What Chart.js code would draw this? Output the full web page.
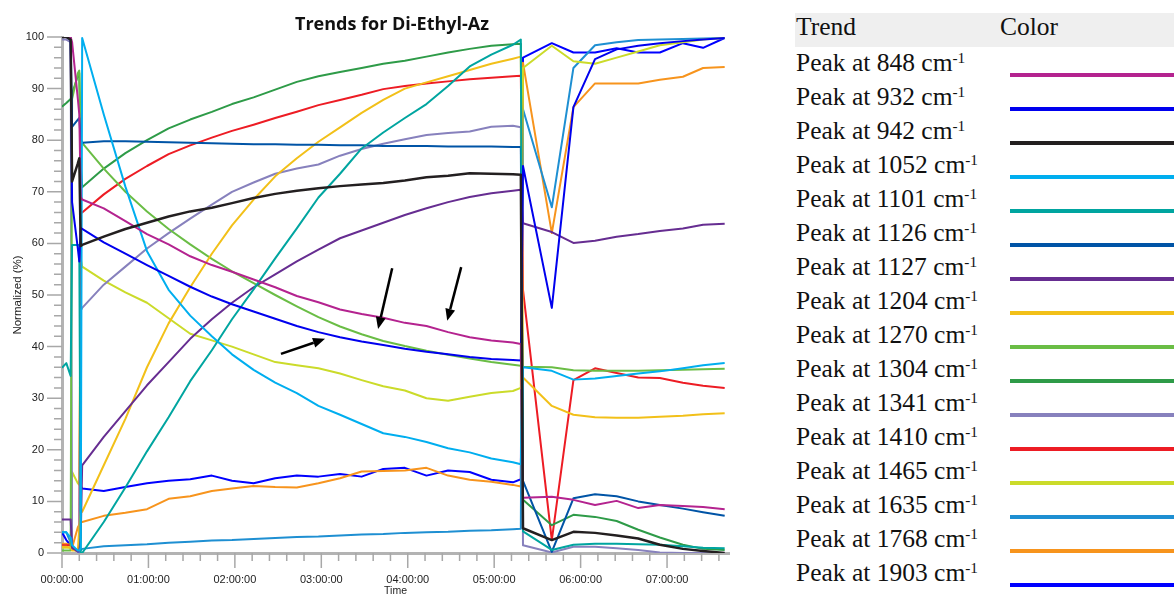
<!DOCTYPE html>
<html>
<head>
<meta charset="utf-8">
<script src="https://cdn.jsdelivr.net/npm/chart.js@4.4.1/dist/chart.umd.min.js"></script>
<style>
  html, body { margin: 0; padding: 0; background: #fff; }
  body { width: 1174px; height: 597px; overflow: hidden; position: relative; }
  #plot { position: absolute; left: 0; top: 0; width: 784px; height: 597px; }
  .head { position: absolute; left: 795px; top: 13px; width: 379px; height: 34px; background: #efefef; }
  .txt { position: absolute; font-family: "Liberation Serif", "Times New Roman", serif; font-size: 25.5px;
         line-height: 34px; color: #111; white-space: nowrap; }
  .txt sup { font-size: 0.6em; line-height: 0; vertical-align: 0.5em; }
  .sw { position: absolute; left: 1010px; width: 180px; height: 4px; }
</style>
</head>
<body>
<div id="plot"><canvas id="chart" width="784" height="597"></canvas></div>
<div class="head"></div>
<div class="txt" style="left:796px; top:10.4px;">Trend</div>
<div class="txt" style="left:1000px; top:10.4px;">Color</div>
<div id="legend"></div>

<script>
// Sample times in minutes after start
const minutes = [0, 3, 6, 7, 11, 12, 13,
  14, 29, 44, 59, 74, 89, 104, 118, 133, 148, 163, 178, 193, 208, 223, 238, 253, 268, 283, 298, 313, 318.5,
  320, 340, 355, 370, 385, 400, 415, 431, 445, 460];

// Normalized peak intensities (%)
const peak848 = [100, 100, 100, 99, 88, 85, 69,
  68.5, 66.8, 64.3, 61.8, 59.8, 57.5, 55.8, 54.5, 53, 51.5, 49.8, 48.6, 47.2, 46.3, 45.6, 44.6, 44, 42.8, 41.8, 41.2, 40.8, 40.5,
  10.7, 10.9, 10.3, 9.3, 10.1, 8.7, 9.3, 9.1, 8.9, 8.5];
const peak932 = [100, 100, 99.5, 68, 59, 56.5, 63,
  62.8, 60.2, 58, 55.8, 53.7, 51.6, 49.7, 48.2, 46.8, 45.4, 44, 42.8, 41.8, 41, 40.3, 39.6, 39, 38.5, 38, 37.6, 37.4, 37.3,
  75, 47.5, 86.4, 95.7, 97.6, 98.3, 98.8, 99.2, 99.5, 99.8];
const peak942 = [100, 100, 99.5, 72, 75.5, 76.5, 59.5,
  59.7, 61.3, 62.8, 64, 65.2, 66.2, 66.9, 67.8, 68.8, 69.6, 70.2, 70.7, 71.1, 71.4, 71.7, 72.2, 72.8, 73.1, 73.6, 73.5, 73.4, 73.3,
  4.8, 2.5, 4.1, 3.9, 3.4, 2.8, 1.6, 0.8, 0.4, 0];
const peak1052 = [4, 4, 3, 1.5, 0.5, 0.5, 1,
  99.8, 85, 71, 58.5, 51, 46, 42, 38.5, 35.5, 33, 31, 28.5, 26.8, 25, 23.2, 22.5, 21.5, 20.3, 19.5, 18.3, 17.6, 17.2,
  36, 35.3, 33.6, 33.8, 34.3, 34.8, 35.2, 35.8, 36.4, 36.8];
const peak1101 = [35.9, 36.8, 34.3, 59.7, 59.7, 59.7, 0,
  0, 6, 12.7, 19.7, 26.3, 33.3, 39.3, 45.3, 51.1, 57.1, 62.9, 68.9, 73.5, 78.4, 81.5, 84.3, 87, 90.5, 94.3, 96.6, 98.5, 99.5,
  4.2, 0.6, 1.6, 1.8, 1.8, 1.7, 1.6, 1.3, 1, 0.9];
const peak1126 = [100, 100, 100, 82.6, 84, 84.3, 80,
  79.5, 79.8, 79.8, 79.7, 79.6, 79.5, 79.4, 79.3, 79.2, 79.2, 79.1, 79.1, 79, 79, 78.9, 78.9, 78.9, 78.8, 78.8, 78.8, 78.7, 78.7,
  14, 0.2, 10.6, 11.4, 11, 10, 9.3, 8.6, 7.9, 7.2];
const peak1127 = [6.5, 6.5, 6.5, 1, 0.3, 0.5, 3,
  17, 22.5, 27.5, 32.5, 37, 41.5, 45.3, 48.5, 51.5, 54, 56.5, 58.8, 61, 62.5, 64, 65.5, 66.8, 68, 69, 69.7, 70.2, 70.4,
  63.9, 62.2, 60.1, 60.5, 61.3, 61.8, 62.4, 62.9, 63.6, 63.8];
const peak1204 = [1.2, 1.2, 1, 0.5, 0.5, 5, 8,
  8, 17, 26, 36, 44.5, 51.5, 58, 63.5, 68.5, 73, 76.5, 79.7, 82.5, 85.3, 87.8, 90, 91.2, 92.4, 93.6, 94.8, 95.8, 96.2,
  34, 28.5, 26.8, 26.3, 26.2, 26.2, 26.4, 26.6, 26.9, 27.1];
const peak1270 = [0.5, 0.5, 0.5, 88, 93, 93.5, 80,
  79.5, 74.5, 70, 66.2, 62.8, 59.8, 57, 54.6, 52.3, 50, 47.8, 45.7, 43.9, 42.4, 41.1, 40.1, 39.2, 38.4, 37.7, 37, 36.5, 36.3,
  36.1, 36, 35.4, 35.3, 35.3, 35.3, 35.4, 35.5, 35.6, 35.7];
const peak1304 = [86.5, 87.2, 88, 89, 92.5, 93, 75,
  70.9, 74.5, 77.5, 80, 82.3, 84, 85.5, 87, 88.3, 89.8, 91.3, 92.4, 93.2, 94, 94.8, 95.4, 96.2, 97, 97.7, 98.3, 98.6, 98.7,
  10.3, 5.4, 7.4, 7, 6.2, 4.5, 3, 1.6, 0.8, 0.6];
const peak1341 = [99.5, 99.5, 99, 1, 0.5, 0.5, 47,
  47.5, 52, 55.5, 59, 62, 64.8, 67.5, 70, 71.8, 73.5, 74.5, 75.3, 77, 78.3, 79.3, 80.2, 81, 81.4, 81.7, 82.6, 82.8, 82.5,
  1.5, 0.1, 1.2, 1.2, 0.9, 0.6, 0.1, 0, 0, 0];
const peak1410 = [1.5, 1.5, 1.5, 1, 0.5, 0.5, 66,
  66, 69.5, 72.5, 75, 77.3, 79, 80.5, 81.8, 83, 84.3, 85.5, 86.8, 87.8, 88.8, 89.9, 90.5, 91, 91.4, 91.8, 92.1, 92.4, 92.5,
  51, 2.5, 33.5, 35.8, 34.9, 34, 33.9, 33, 32.4, 32];
const peak1465 = [1, 1, 1, 15.7, 13.5, 13.2, 57,
  55.5, 52.8, 50.5, 48.5, 45.5, 42.5, 41.2, 40, 38.5, 37, 36.4, 35.8, 34.8, 33.5, 32.3, 31.5, 30, 29.5, 30.3, 31, 31.4, 32,
  94, 98.3, 95.3, 94.8, 96, 97.2, 98.4, 99, 99.5, 99.8];
const peak1635 = [4, 4, 2, 1, 0.5, 0.5, 0.5,
  0.8, 1.3, 1.5, 1.7, 2, 2.2, 2.4, 2.5, 2.7, 2.9, 3.1, 3.2, 3.4, 3.6, 3.7, 3.9, 4, 4.1, 4.3, 4.4, 4.6, 4.7,
  86, 67, 94, 98.4, 99, 99.4, 99.5, 99.6, 99.7, 99.8];
const peak1768 = [1.8, 1.8, 1.5, 1, 5, 5.5, 6,
  6, 7.2, 7.8, 8.5, 10.5, 11, 12, 12.5, 13, 12.8, 12.7, 13.5, 14.5, 15.8, 15.9, 16, 16.5, 15, 14.2, 13.8, 13.2, 12.9,
  95, 62, 86.4, 91, 91, 91, 91.7, 92.3, 94, 94.2];
const peak1903 = [4, 2.5, 1.5, 0.8, 0.3, 0.3, 13,
  12.5, 12, 12.8, 13.5, 14, 14.3, 15, 14, 13.5, 14.5, 15, 14.8, 15.3, 14.8, 16.3, 16.5, 15, 16, 15.7, 14.2, 13.7, 14.3,
  96, 98.8, 97, 97, 97.8, 97, 97, 98.8, 97.9, 99.8];

const wavenumbers = ['848', '932', '942', '1052', '1101', '1126', '1127', '1204',
  '1270', '1304', '1341', '1410', '1465', '1635', '1768', '1903'];
const series = [peak848, peak932, peak942, peak1052, peak1101, peak1126, peak1127, peak1204,
  peak1270, peak1304, peak1341, peak1410, peak1465, peak1635, peak1768, peak1903];
const lineColors = ['#b4238f', '#0000ee', '#231f20', '#00aeef', '#00a5a0', '#0054a6', '#662d91', '#f2c019',
  '#6abd45', '#2e9b48', '#8781bd', '#ed1c24', '#cbdb2a', '#1e8fd2', '#f7941d', '#0000ff'];

// Annotation arrows: [fromMinute, fromPercent, toMinute, toPercent]
const arrowNotes = [[152, 38.6, 182.6, 41.5], [229.2, 55.2, 219.4, 43.4], [277.1, 55.4, 267.4, 45.0]];

const chartTitle = 'Trends for Di-Ethyl-Az';

function hms(m) {
  const h = Math.floor(m / 60), mm = m % 60;
  const p = n => String(n).padStart(2, '0');
  return p(h) + ':' + p(mm) + ':00';
}

// Legend table on the right
const legendBox = document.getElementById('legend');
wavenumbers.forEach((w, i) => {
  const t = document.createElement('div');
  t.className = 'txt';
  t.style.left = '796px';
  t.style.top = (46.1 + 34 * i) + 'px';
  t.innerHTML = 'Peak at ' + w + ' cm<sup>-1</sup>';
  legendBox.appendChild(t);
  const s = document.createElement('div');
  s.className = 'sw';
  s.style.top = (72.7 + 34 * i) + 'px';
  s.style.background = lineColors[i];
  legendBox.appendChild(s);
});

// Major/minor tick marks along both axes
const axisTicks = {
  id: 'axisTicks',
  afterDraw(chart) {
    const { ctx, chartArea, scales } = chart;
    ctx.save();
    ctx.strokeStyle = '#a8a8a8';
    ctx.lineWidth = 1.5;
    ctx.beginPath();
    scales.y.ticks.forEach(t => {
      const py = scales.y.getPixelForValue(t.value);
      const len = t.value % 10 === 0 ? 15 : 8;
      ctx.moveTo(chartArea.left - len, py);
      ctx.lineTo(chartArea.left, py);
    });
    scales.x.ticks.forEach(t => {
      const px = scales.x.getPixelForValue(t.value);
      const len = t.value % 60 === 0 ? 15 : 8;
      ctx.moveTo(px, chartArea.bottom);
      ctx.lineTo(px, chartArea.bottom + len);
    });
    ctx.stroke();
    ctx.restore();
  }
};

// Chart heading
const heading = {
  id: 'heading',
  afterDraw(chart) {
    const { ctx, chartArea } = chart;
    ctx.save();
    ctx.font = 'bold 18px "Open Sans", "DejaVu Sans", sans-serif';
    ctx.fillStyle = '#111';
    ctx.textAlign = 'center';
    ctx.textBaseline = 'middle';
    ctx.fillText(chartTitle, (chartArea.left + chartArea.right) / 2 - 3.5, 25);
    ctx.restore();
  }
};

// Black pointer arrows
const pointers = {
  id: 'pointers',
  afterDatasetsDraw(chart) {
    const { ctx, scales: { x, y } } = chart;
    ctx.save();
    ctx.strokeStyle = '#000';
    ctx.fillStyle = '#000';
    ctx.lineWidth = 2.5;
    arrowNotes.forEach(([m0, v0, m1, v1]) => {
      const x0 = x.getPixelForValue(m0), y0 = y.getPixelForValue(v0);
      const x1 = x.getPixelForValue(m1), y1 = y.getPixelForValue(v1);
      const ang = Math.atan2(y1 - y0, x1 - x0);
      const head = 12, half = 5;
      const bx = x1 - head * Math.cos(ang), by = y1 - head * Math.sin(ang);
      ctx.beginPath();
      ctx.moveTo(x0, y0);
      ctx.lineTo(bx, by);
      ctx.stroke();
      ctx.beginPath();
      ctx.moveTo(x1, y1);
      ctx.lineTo(bx + half * Math.sin(ang), by - half * Math.cos(ang));
      ctx.lineTo(bx - half * Math.sin(ang), by + half * Math.cos(ang));
      ctx.closePath();
      ctx.fill();
    });
    ctx.restore();
  }
};

const tickFont = { family: '"Liberation Sans", Arial, sans-serif', size: 11 };

new Chart(document.getElementById('chart'), {
  type: 'line',
  data: {
    datasets: series.map((vals, i) => ({
      label: 'Peak at ' + wavenumbers[i] + ' cm-1',
      data: vals.map((v, k) => ({ x: minutes[k], y: v })),
      borderColor: lineColors[i],
      backgroundColor: lineColors[i],
      borderWidth: wavenumbers[i] === '942' ? 2.5 : 2,
      borderJoinStyle: 'round',
      pointRadius: 0,
      tension: 0,
      fill: false,
      order: wavenumbers[i] === '942' ? -1 : i
    }))
  },
  options: {
    responsive: false,
    animation: false,
    devicePixelRatio: 1,
    layout: { padding: { top: 37, right: 55, left: 0, bottom: 0 } },
    plugins: {
      legend: { display: false },
      title: { display: false },
      tooltip: { enabled: false }
    },
    scales: {
      x: {
        type: 'linear',
        min: 0,
        max: 463,
        ticks: {
          stepSize: 12, autoSkip: false, includeBounds: false, maxRotation: 0, minRotation: 0,
          padding: 5, color: '#222', font: tickFont,
          callback: v => (v % 60 === 0 ? hms(v) : '')
        },
        grid: { drawOnChartArea: false, drawTicks: true, tickLength: 15, tickColor: 'rgba(0,0,0,0)' },
        border: { display: true, color: '#b3b3b3', width: 3 },
        title: { display: true, text: 'Time', color: '#222',
                 font: { family: '"Liberation Sans", Arial, sans-serif', size: 10.5 }, padding: { top: 0, bottom: 0 } },
        afterFit: s => { s.height = 44; }
      },
      y: {
        min: 0,
        max: 100,
        ticks: {
          stepSize: 2, autoSkip: false, padding: 3, color: '#222', font: tickFont,
          callback: v => (v % 10 === 0 ? String(v) : '')
        },
        grid: { drawOnChartArea: false, drawTicks: true, tickLength: 15, tickColor: 'rgba(0,0,0,0)' },
        border: { display: true, color: '#b3b3b3', width: 3 },
        title: { display: true, text: 'Normalized (%)', color: '#222',
                 font: { family: '"Liberation Sans", Arial, sans-serif', size: 11.5 }, padding: { top: 11, bottom: 0 } },
        afterFit: s => { s.width = 62; }
      }
    }
  },
  plugins: [axisTicks, pointers, heading]
});
</script>
</body>
</html>
